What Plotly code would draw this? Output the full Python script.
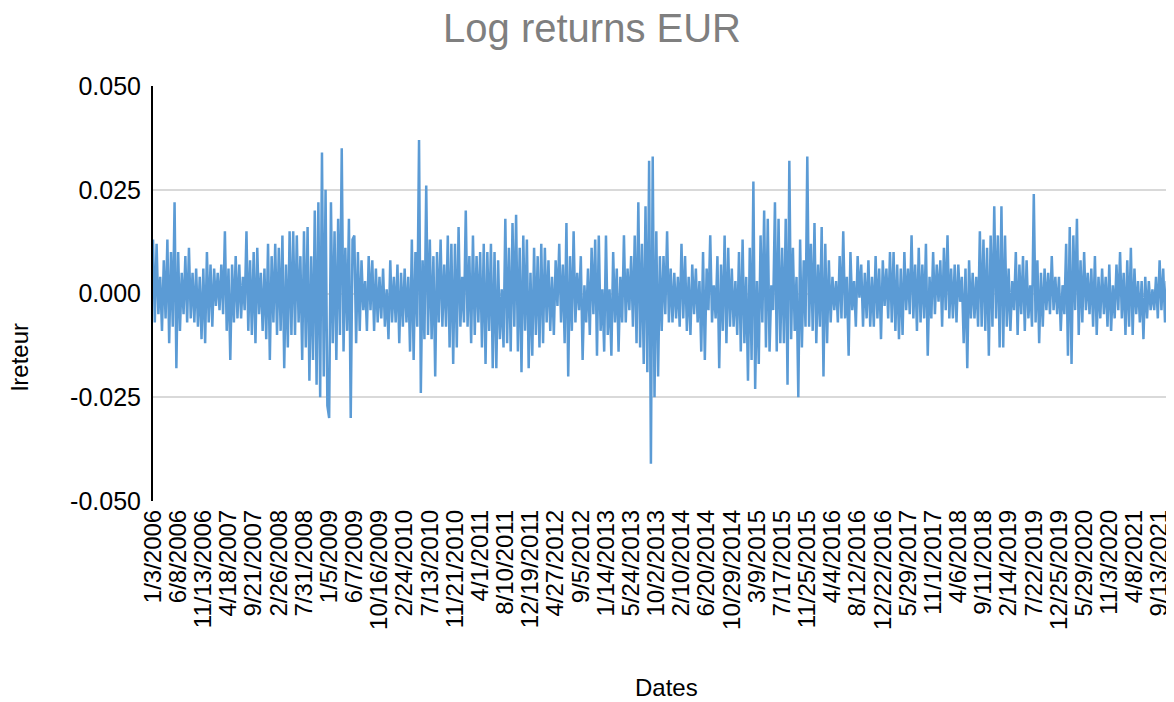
import plotly.graph_objects as go

# tick labels shown on the category axis (every 14th point)
dates = [
    "1/3/2006", "6/8/2006", "11/13/2006", "4/18/2007", "9/21/2007", "2/26/2008",
    "7/31/2008", "1/5/2009", "6/7/2009", "10/16/2009", "2/24/2010", "7/13/2010",
    "11/21/2010", "4/1/2011", "8/10/2011", "12/19/2011", "4/27/2012", "9/5/2012",
    "1/14/2013", "5/24/2013", "10/2/2013", "2/10/2014", "6/20/2014", "10/29/2014",
    "3/9/2015", "7/17/2015", "11/25/2015", "4/4/2016", "8/12/2016", "12/22/2016",
    "5/29/2017", "11/1/2017", "4/6/2018", "9/11/2018", "2/14/2019", "7/22/2019",
    "12/25/2019", "5/29/2020", "11/3/2020", "4/8/2021", "9/13/2021",
]
points_per_label = 14

# log returns (one row per label interval)
lreteur = [
    0.013, -0.007, 0.012, -0.005, 0.004, -0.009, 0.008, -0.006, 0.013, -0.012, 0.010, -0.008, 0.022, -0.018,
    0.010, -0.009, 0.005, -0.005, 0.009, -0.007, 0.011, -0.006, 0.005, -0.007, 0.006, -0.008, 0.004, -0.011,
    0.006, -0.012, 0.010, -0.007, 0.007, -0.008, 0.006, -0.003, 0.005, -0.004, 0.007, -0.005, 0.015, -0.009,
    0.006, -0.016, 0.007, -0.007, 0.009, -0.006, 0.007, -0.006, 0.004, -0.004, 0.015, -0.009, 0.008, -0.010,
    0.010, -0.012, 0.011, -0.005, 0.005, -0.009, 0.006, -0.011, 0.012, -0.016, 0.009, -0.007, 0.012, -0.010,
    0.011, -0.009, 0.014, -0.018, 0.007, -0.013, 0.015, -0.010, 0.015, -0.010, 0.014, -0.007, 0.009, -0.016,
    0.015, -0.013, 0.016, -0.021, 0.009, -0.016, 0.020, -0.022, 0.022, -0.025, 0.034, -0.020, 0.025, -0.027,
    -0.030, 0.022, -0.012, 0.015, -0.016, 0.018, -0.010, 0.035, -0.014, 0.011, -0.009, 0.018, -0.030, 0.013,
    0.014, -0.012, 0.010, -0.009, 0.008, -0.004, 0.003, -0.009, 0.009, -0.004, 0.008, -0.009, 0.006, -0.007,
    0.004, -0.006, 0.006, -0.008, 0.001, -0.011, 0.008, -0.007, 0.004, -0.007, 0.007, -0.012, 0.005, -0.008,
    0.006, -0.007, 0.004, -0.014, 0.013, -0.016, 0.010, -0.008, 0.037, -0.024, 0.008, -0.011, 0.026, -0.010,
    0.013, -0.011, 0.009, -0.020, 0.010, -0.007, 0.013, -0.008, 0.007, -0.008, 0.014, -0.013, 0.012, -0.017,
    0.012, -0.013, 0.016, -0.008, 0.004, -0.007, 0.020, -0.008, 0.009, -0.012, 0.014, -0.010, 0.009, -0.007,
    0.010, -0.013, 0.012, -0.017, 0.010, -0.009, 0.012, -0.018, 0.010, -0.018, 0.008, -0.011, 0.001, -0.013,
    0.018, -0.012, 0.011, -0.014, 0.017, -0.008, 0.019, -0.014, 0.011, -0.019, 0.014, -0.009, 0.013, -0.018,
    0.005, -0.015, 0.011, -0.010, 0.009, -0.013, 0.012, -0.012, 0.011, -0.007, 0.008, -0.009, 0.004, -0.010,
    0.008, -0.003, 0.012, -0.007, 0.007, -0.012, 0.017, -0.020, 0.009, -0.009, 0.015, -0.007, 0.005, -0.004,
    0.009, -0.016, 0.002, -0.007, 0.006, -0.010, 0.011, -0.005, 0.013, -0.015, 0.014, -0.009, 0.001, -0.014,
    0.014, -0.010, 0.001, -0.015, 0.010, -0.007, 0.006, -0.014, 0.004, -0.007, 0.014, -0.007, 0.006, -0.004,
    0.009, -0.008, 0.014, -0.012, 0.022, -0.013, 0.012, -0.017, 0.021, -0.019, 0.032, -0.041, 0.033, -0.025,
    0.015, -0.020, 0.009, -0.009, 0.009, -0.005, 0.015, -0.007, 0.006, -0.007, 0.005, -0.006, 0.004, -0.008,
    0.012, -0.006, 0.009, -0.009, 0.004, -0.010, 0.007, -0.005, 0.006, -0.007, 0.003, -0.014, 0.010, -0.016,
    0.006, -0.004, 0.014, -0.007, 0.002, -0.006, 0.009, -0.018, 0.007, -0.009, 0.014, -0.012, 0.011, -0.008,
    0.006, -0.008, 0.003, -0.010, 0.010, -0.014, 0.013, -0.012, 0.004, -0.021, 0.011, -0.016, 0.027, -0.023,
    0.003, -0.017, 0.014, -0.007, 0.020, -0.013, 0.018, -0.014, 0.002, -0.004, 0.022, -0.014, 0.018, -0.012,
    0.011, -0.012, 0.018, -0.022, 0.032, -0.011, 0.011, -0.009, 0.004, -0.025, 0.013, -0.013, 0.008, -0.008,
    0.033, -0.008, 0.012, -0.009, 0.017, -0.012, 0.007, -0.008, 0.016, -0.020, 0.012, -0.012, 0.008, -0.007,
    0.004, -0.004, 0.003, -0.007, 0.009, -0.006, 0.015, -0.006, 0.004, -0.015, 0.010, -0.004, 0.003, -0.008,
    0.009, -0.001, 0.007, -0.008, 0.005, -0.006, 0.008, -0.008, 0.004, -0.008, 0.009, -0.006, 0.006, -0.011,
    0.008, -0.003, 0.006, -0.006, 0.010, -0.007, 0.010, -0.009, 0.007, -0.011, 0.006, -0.010, 0.010, -0.004,
    0.006, -0.005, 0.014, -0.006, 0.007, -0.009, 0.011, -0.007, 0.007, -0.006, 0.012, -0.015, 0.004, -0.006,
    0.010, -0.005, 0.007, -0.002, 0.008, -0.008, 0.011, -0.004, 0.014, -0.006, 0.006, -0.006, 0.007, -0.007,
    0.007, -0.002, 0.004, -0.012, 0.006, -0.018, 0.008, -0.006, 0.005, -0.006, 0.004, -0.008, 0.015, -0.008,
    0.013, -0.009, 0.011, -0.015, 0.014, -0.008, 0.021, -0.006, 0.014, -0.013, 0.021, -0.013, 0.014, -0.008,
    0.006, -0.009, 0.003, -0.004, 0.010, -0.010, 0.007, -0.005, 0.009, -0.009, 0.008, -0.006, 0.002, -0.008,
    0.024, -0.007, 0.008, -0.012, 0.005, -0.008, 0.006, -0.004, 0.005, -0.005, 0.009, -0.004, 0.004, -0.005,
    0.004, -0.009, 0.002, -0.005, 0.012, -0.015, 0.016, -0.017, 0.014, -0.004, 0.018, -0.010, 0.008, -0.007,
    0.010, -0.004, 0.005, -0.005, 0.006, -0.008, 0.009, -0.010, 0.004, -0.006, 0.006, -0.005, 0.004, -0.008,
    0.007, -0.009, 0.002, -0.006, 0.007, -0.004, 0.010, -0.006, 0.005, -0.010, 0.008, -0.008, 0.011, -0.010,
    0.006, -0.005, 0.003, -0.007, 0.003, -0.011, 0.004, -0.006, 0.003, -0.004, 0.001, -0.004, 0.004, -0.006,
    0.008, -0.004, 0.006, -0.007, 0.003, -0.004, 0.005, -0.006, 0.017,
]

y_ticks = [-0.05, -0.025, 0.0, 0.025, 0.05]
y_ticktext = ["-0.050", "-0.025", "0.000", "0.025", "0.050"]

idx = list(range(len(lreteur)))
font = "Liberation Sans, Arial, sans-serif"

# the page body adds an 8px margin, so the figure is laid out 8px smaller
W, H = 1166, 694
left, top, plot_w, plot_h = 145, 78, 1021, 415

fig = go.Figure()
fig.add_trace(go.Scatter(
    x=idx,
    y=lreteur,
    mode="lines",
    line=dict(color="#5B9BD5", width=2.5),
    hoverinfo="skip",
))

fig.update_layout(
    width=W,
    height=H,
    margin=dict(l=left, r=W - left - plot_w, t=top, b=H - top - plot_h, autoexpand=False),
    paper_bgcolor="white",
    plot_bgcolor="white",
    showlegend=False,
    font=dict(family=font, size=24, color="#000000"),
    title=dict(
        text="Log returns EUR",
        font=dict(family=font, size=40, color="#7F7F7F"),
        x=(592 - 8) / W, xanchor="center",
        y=1 - (28 - 8) / H, yanchor="middle",
    ),
)

fig.update_xaxes(
    range=[0, len(lreteur) - 1],
    tickvals=[points_per_label * k for k in range(len(dates))],
    ticktext=dates,
    tickangle=-90,
    showgrid=False,
    zeroline=False,
    showline=False,
    ticks="",
    ticklabelstandoff=3,
    ticklabeloverflow="allow",
    tickfont=dict(size=24, color="#000000"),
)

fig.update_yaxes(
    range=[-0.05, 0.05],
    tickvals=y_ticks,
    ticktext=y_ticktext,
    showgrid=True,
    gridcolor="#D9D9D9",
    gridwidth=1.5,
    zeroline=False,
    showline=True,
    linecolor="#000000",
    linewidth=2,
    ticks="",
    ticklabelstandoff=5,
    tickfont=dict(size=25, color="#000000"),
)

fig.add_annotation(
    text="Dates", xref="paper", yref="paper",
    x=(666 - 153) / plot_w, y=(501 - 687) / plot_h,
    showarrow=False, font=dict(size=24, color="#000000"),
    xanchor="center", yanchor="middle",
)
fig.add_annotation(
    text="lreteur", xref="paper", yref="paper",
    x=(19 - 153) / plot_w, y=(501 - 357) / plot_h,
    showarrow=False, textangle=-90, font=dict(size=24, color="#000000"),
    xanchor="center", yanchor="middle",
)

fig.write_html("out.html")
